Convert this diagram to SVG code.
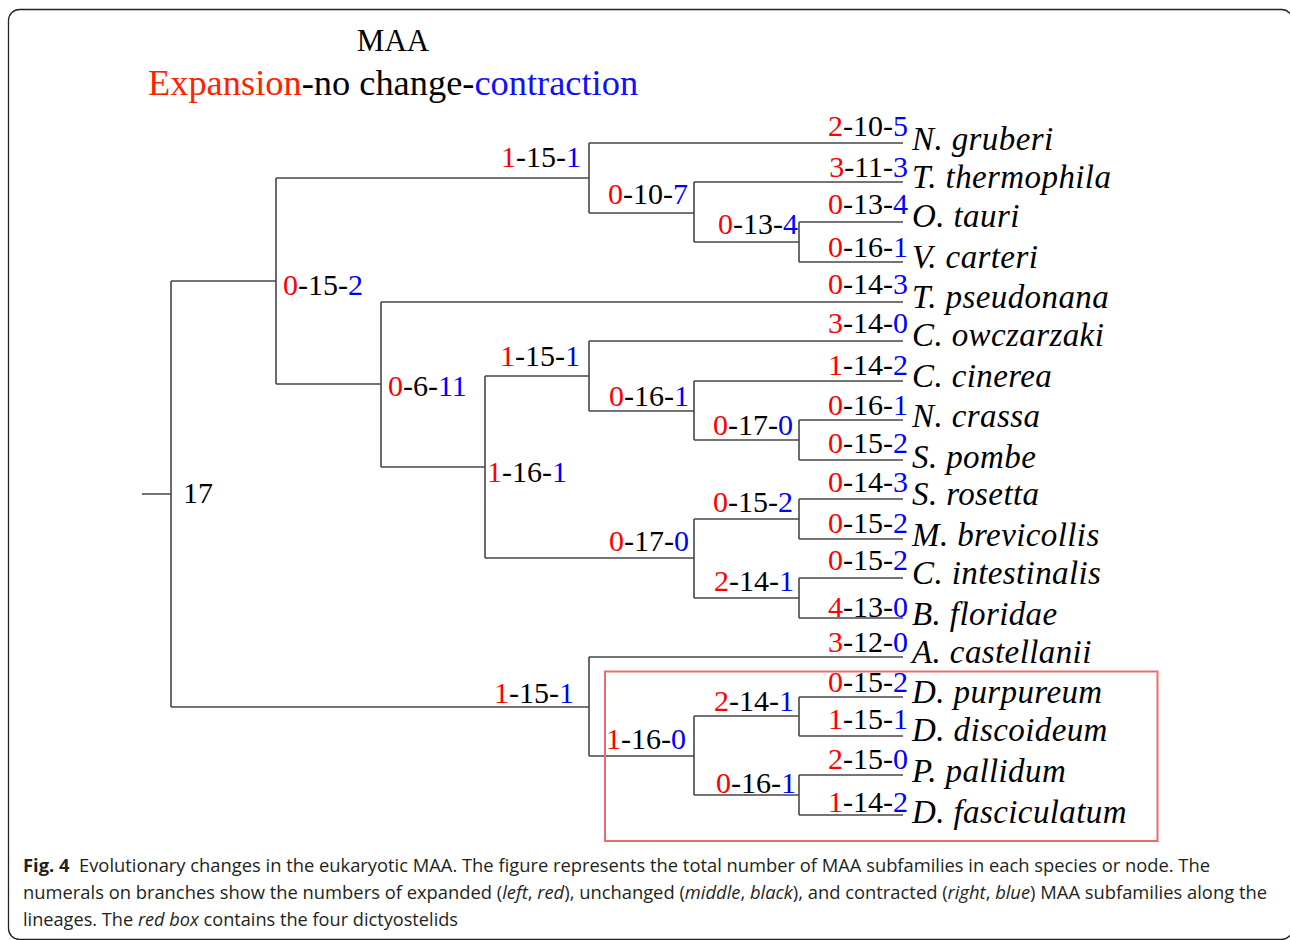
<svg xmlns="http://www.w3.org/2000/svg" width="1290" height="940" viewBox="0 0 1290 940">
<style>
.br{fill:none;stroke:#474747;stroke-width:1.6}
.n{font-family:"Liberation Serif","Times New Roman",serif;font-size:30px;fill:#000}
.sp{font-family:"Liberation Serif","Times New Roman",serif;font-size:33px;letter-spacing:0.4px;font-style:italic;fill:#000}
.r{fill:#ff0000}
.b{fill:#0000ff}
.e{text-anchor:end}
.cap{font-family:"Open Sans","Noto Sans",sans-serif;font-size:18px;fill:#231f20}
</style>
<rect x="8.5" y="9.5" width="1284" height="930" rx="11" fill="#fff" stroke="#222" stroke-width="1.3"/>
<g id="title">
<text x="393" y="51" class="n" style="font-size:31px" text-anchor="middle">MAA</text>
<text x="148" y="95" class="n" style="font-size:36.4px"><tspan fill="#ff2200">Expansion</tspan>-no change-<tspan fill="#1010ff">contraction</tspan></text>
</g>
<g id="connectors">
<path class="br" d="M142 494H171M171 281V707M171 281H276M171 707H589"/>
<path class="br" d="M276 178V384M276 178H589M276 384H381"/>
<path class="br" d="M589 143V213M589 143H903M589 213H694"/>
<path class="br" d="M694 182V242M694 182H903M694 242H799"/>
<path class="br" d="M799 222V262M799 222H903M799 262H903"/>
<path class="br" d="M381 302V467M381 302H903M381 467H485"/>
<path class="br" d="M485 376V558M485 376H589M485 558H694"/>
<path class="br" d="M589 341V411M589 341H903M589 411H694"/>
<path class="br" d="M694 381V440M694 381H903M694 440H799"/>
<path class="br" d="M799 420V460M799 420H903M799 460H903"/>
<path class="br" d="M694 519V598M694 519H799M694 598H799"/>
<path class="br" d="M799 499V539M799 499H903M799 539H903"/>
<path class="br" d="M799 578V618M799 578H903M799 618H903"/>
<path class="br" d="M589 657V756M589 657H903M589 756H694"/>
<path class="br" d="M694 716V795M694 716H799M694 795H799"/>
<path class="br" d="M799 697V736M799 697H903M799 736H903"/>
<path class="br" d="M799 775V815M799 775H903M799 815H903"/>
</g>
<g id="root"><text x="183" y="503" class="n">17</text></g>
<g id="internal-labels">
<text x="581" y="167" class="n e"><tspan class="r">1</tspan>-15-<tspan class="b">1</tspan></text>
<text x="688" y="204" class="n e"><tspan class="r">0</tspan>-10-<tspan class="b">7</tspan></text>
<text x="798" y="234" class="n e"><tspan class="r">0</tspan>-13-<tspan class="b">4</tspan></text>
<text x="283" y="295" class="n"><tspan class="r">0</tspan>-15-<tspan class="b">2</tspan></text>
<text x="388" y="396" class="n"><tspan class="r">0</tspan>-6-<tspan class="b">11</tspan></text>
<text x="580" y="366" class="n e"><tspan class="r">1</tspan>-15-<tspan class="b">1</tspan></text>
<text x="487" y="482" class="n"><tspan class="r">1</tspan>-16-<tspan class="b">1</tspan></text>
<text x="689" y="406" class="n e"><tspan class="r">0</tspan>-16-<tspan class="b">1</tspan></text>
<text x="793" y="435" class="n e"><tspan class="r">0</tspan>-17-<tspan class="b">0</tspan></text>
<text x="689" y="551" class="n e"><tspan class="r">0</tspan>-17-<tspan class="b">0</tspan></text>
<text x="793" y="512" class="n e"><tspan class="r">0</tspan>-15-<tspan class="b">2</tspan></text>
<text x="794" y="591" class="n e"><tspan class="r">2</tspan>-14-<tspan class="b">1</tspan></text>
<text x="574" y="703" class="n e"><tspan class="r">1</tspan>-15-<tspan class="b">1</tspan></text>
<text x="686" y="749" class="n e"><tspan class="r">1</tspan>-16-<tspan class="b">0</tspan></text>
<text x="794" y="711" class="n e"><tspan class="r">2</tspan>-14-<tspan class="b">1</tspan></text>
<text x="796" y="793" class="n e"><tspan class="r">0</tspan>-16-<tspan class="b">1</tspan></text>
</g>
<g id="leaf-N-gruberi"><text x="908" y="136" class="n e"><tspan class="r">2</tspan>-10-<tspan class="b">5</tspan></text><text x="912" y="150" class="sp">N. gruberi</text></g>
<g id="leaf-T-thermophila"><text x="908" y="177" class="n e"><tspan class="r">3</tspan>-11-<tspan class="b">3</tspan></text><text x="912" y="188" class="sp">T. thermophila</text></g>
<g id="leaf-O-tauri"><text x="908" y="214" class="n e"><tspan class="r">0</tspan>-13-<tspan class="b">4</tspan></text><text x="912" y="227" class="sp">O. tauri</text></g>
<g id="leaf-V-carteri"><text x="908" y="257" class="n e"><tspan class="r">0</tspan>-16-<tspan class="b">1</tspan></text><text x="912" y="268" class="sp">V. carteri</text></g>
<g id="leaf-T-pseudonana"><text x="908" y="294" class="n e"><tspan class="r">0</tspan>-14-<tspan class="b">3</tspan></text><text x="912" y="308" class="sp">T. pseudonana</text></g>
<g id="leaf-C-owczarzaki"><text x="908" y="333" class="n e"><tspan class="r">3</tspan>-14-<tspan class="b">0</tspan></text><text x="912" y="346" class="sp">C. owczarzaki</text></g>
<g id="leaf-C-cinerea"><text x="908" y="375" class="n e"><tspan class="r">1</tspan>-14-<tspan class="b">2</tspan></text><text x="912" y="387" class="sp">C. cinerea</text></g>
<g id="leaf-N-crassa"><text x="908" y="415" class="n e"><tspan class="r">0</tspan>-16-<tspan class="b">1</tspan></text><text x="912" y="427" class="sp">N. crassa</text></g>
<g id="leaf-S-pombe"><text x="908" y="453" class="n e"><tspan class="r">0</tspan>-15-<tspan class="b">2</tspan></text><text x="912" y="468" class="sp">S. pombe</text></g>
<g id="leaf-S-rosetta"><text x="908" y="492" class="n e"><tspan class="r">0</tspan>-14-<tspan class="b">3</tspan></text><text x="912" y="505" class="sp">S. rosetta</text></g>
<g id="leaf-M-brevicollis"><text x="908" y="533" class="n e"><tspan class="r">0</tspan>-15-<tspan class="b">2</tspan></text><text x="912" y="546" class="sp">M. brevicollis</text></g>
<g id="leaf-C-intestinalis"><text x="908" y="570" class="n e"><tspan class="r">0</tspan>-15-<tspan class="b">2</tspan></text><text x="912" y="584" class="sp">C. intestinalis</text></g>
<g id="leaf-B-floridae"><text x="908" y="617" class="n e"><tspan class="r">4</tspan>-13-<tspan class="b">0</tspan></text><text x="912" y="625" class="sp">B. floridae</text></g>
<g id="leaf-A-castellanii"><text x="908" y="652" class="n e"><tspan class="r">3</tspan>-12-<tspan class="b">0</tspan></text><text x="912" y="663" class="sp">A. castellanii</text></g>
<g id="leaf-D-purpureum"><text x="908" y="692" class="n e"><tspan class="r">0</tspan>-15-<tspan class="b">2</tspan></text><text x="912" y="703" class="sp">D. purpureum</text></g>
<g id="leaf-D-discoideum"><text x="908" y="729" class="n e"><tspan class="r">1</tspan>-15-<tspan class="b">1</tspan></text><text x="912" y="741" class="sp">D. discoideum</text></g>
<g id="leaf-P-pallidum"><text x="908" y="769" class="n e"><tspan class="r">2</tspan>-15-<tspan class="b">0</tspan></text><text x="912" y="782" class="sp">P. pallidum</text></g>
<g id="leaf-D-fasciculatum"><text x="908" y="812" class="n e"><tspan class="r">1</tspan>-14-<tspan class="b">2</tspan></text><text x="912" y="823" class="sp">D. fasciculatum</text></g>
<g id="red-box"><rect x="605" y="671.5" width="552.5" height="169.5" fill="none" stroke="#f06a6a" stroke-width="2"/></g>
<g id="caption">
<text x="23" y="872" class="cap" textLength="1187" lengthAdjust="spacingAndGlyphs"><tspan font-weight="bold">Fig. 4</tspan>&#160; Evolutionary changes in the eukaryotic MAA. The figure represents the total number of MAA subfamilies in each species or node. The</text>
<text x="23" y="899" class="cap" textLength="1244" lengthAdjust="spacingAndGlyphs">numerals on branches show the numbers of expanded (<tspan font-style="italic">left</tspan>, <tspan font-style="italic">red</tspan>), unchanged (<tspan font-style="italic">middle</tspan>, <tspan font-style="italic">black</tspan>), and contracted (<tspan font-style="italic">right</tspan>, <tspan font-style="italic">blue</tspan>) MAA subfamilies along the</text>
<text x="23" y="926" class="cap" textLength="435" lengthAdjust="spacingAndGlyphs">lineages. The <tspan font-style="italic">red box</tspan> contains the four dictyostelids</text>
</g>
</svg>
